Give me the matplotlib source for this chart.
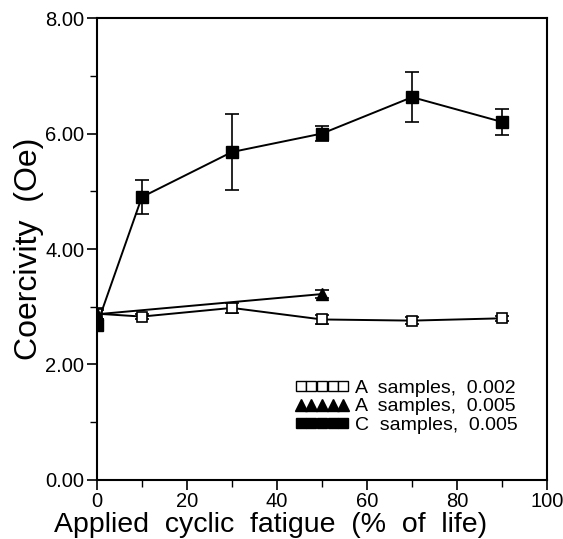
import matplotlib
matplotlib.use("Agg")
import matplotlib.pyplot as plt
from matplotlib.lines import Line2D
from matplotlib.ticker import MultipleLocator, FormatStrFormatter

# Data
a002_x = [0, 10, 30, 50, 70, 90]
a002_y = [2.88, 2.83, 2.98, 2.78, 2.76, 2.80]
a002_err = [0.10, 0.04, 0.08, 0.07, 0.06, 0.04]

a005_x = [0, 50]
a005_y = [2.87, 3.22]
a005_err = [0.08, 0.07]

c005_x = [0, 10, 30, 50, 70, 90]
c005_y = [2.68, 4.90, 5.68, 6.00, 6.63, 6.20]
c005_err = [0.08, 0.29, 0.66, 0.13, 0.43, 0.23]

legend_labels = ["A  samples,  0.002", "A  samples,  0.005", "C  samples,  0.005"]

plt.rcParams['font.family'] = ['Liberation Sans', 'DejaVu Sans']

fig = plt.figure(figsize=(5.63, 5.39), dpi=100)
ax = fig.add_axes([0.172, 0.1095, 0.8, 0.857])

ekw = dict(color='black', lw=1.4, capsize=5, elinewidth=1.2, capthick=1.2)
ax.errorbar(a002_x, a002_y, yerr=a002_err, marker='s', ms=7, mfc='white', mec='black', mew=1.2, **ekw)
ax.errorbar(a005_x, a005_y, yerr=a005_err, marker='^', ms=8, mfc='black', mec='black', **ekw)
ax.errorbar(c005_x, c005_y, yerr=c005_err, marker='s', ms=8, mfc='black', mec='black', **ekw)

ax.set_xlim(0, 100)
ax.set_ylim(0, 8)
ax.xaxis.set_major_locator(MultipleLocator(20))
ax.xaxis.set_minor_locator(MultipleLocator(10))
ax.yaxis.set_major_locator(MultipleLocator(2))
ax.yaxis.set_minor_locator(MultipleLocator(1))
ax.yaxis.set_major_formatter(FormatStrFormatter('%.2f'))
ax.tick_params(which='major', direction='out', length=7, width=1.2, labelsize=14.5, pad=2)
ax.tick_params(which='minor', direction='out', length=5, width=1.0)
ax.tick_params(top=False, right=False)
for s in ax.spines.values():
    s.set_linewidth(1.5)

ax.set_xlabel("Applied  cyclic  fatigue  (%  of  life)", fontsize=20.5, labelpad=0)
ax.xaxis.set_label_coords(0.385, -0.07, transform=ax.transAxes)
ax.xaxis.label.set_va('top')
ax.set_ylabel("Coercivity  (Oe)", fontsize=23, labelpad=1)

handles = [
    Line2D([], [], ls='none', marker='s', ms=7.5, mfc='white', mec='black', mew=1.0),
    Line2D([], [], ls='none', marker='^', ms=8, mfc='black', mec='black'),
    Line2D([], [], ls='none', marker='s', ms=7.5, mfc='black', mec='black'),
]
ax.legend(handles, legend_labels, loc='lower right', bbox_to_anchor=(0.965, 0.07),
          numpoints=5, handlelength=2.8, handletextpad=0.3, frameon=False,
          fontsize=14, labelspacing=0.05, borderpad=0.2)

fig.savefig("out.png", dpi=100)
